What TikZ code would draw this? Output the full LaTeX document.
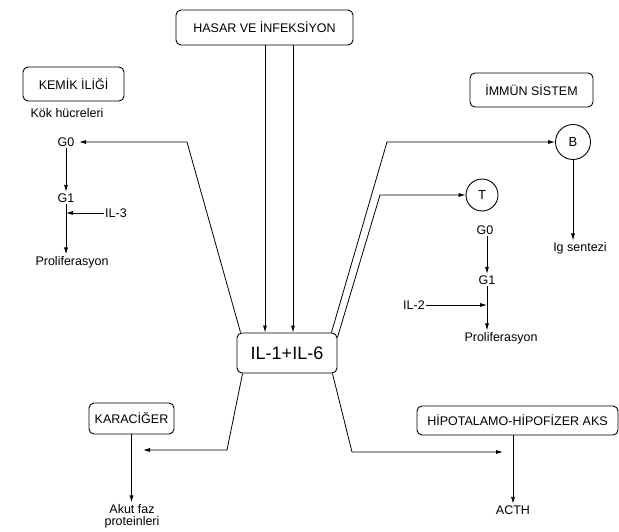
\documentclass[tikz,border=0pt]{standalone}
\usepackage{fontspec}
\setmainfont{Liberation Sans}
\usetikzlibrary{arrows.meta, positioning}
\tikzset{
  box/.style={draw, rounded corners=5pt, line width=0.9pt, inner sep=0pt,
    font=\fontsize{12.5}{14}\selectfont},
  cell/.style={draw, circle, line width=0.9pt, inner sep=0pt,
    font=\fontsize{13}{15}\selectfont},
  lbl/.style={inner sep=1.5pt, font=\fontsize{12.5}{14}\selectfont},
  arr/.style={line width=0.8pt, -{Latex[length=7pt, width=4pt]}}
}

\begin{document}
\begin{tikzpicture}[x=1pt, y=-1pt]
  \useasboundingbox (0, 0) rectangle (619, 532);

  % boxes
  \node[box, minimum width=177pt, minimum height=35pt] (hasar) at (264.5, 27.5) {HASAR VE İNFEKSİYON};
  \node[box, minimum width=101pt, minimum height=34pt] (kemik) at (73.5, 84) {KEMİK İLİĞİ};
  \node[box, minimum width=123pt, minimum height=34pt] (immun) at (531.5, 90) {İMMÜN SİSTEM};
  \node[box, minimum width=100pt, minimum height=40pt, font=\fontsize{18}{20}\selectfont]
    (il) at (287, 353) {IL-1+IL-6};
  \node[box, minimum width=85pt, minimum height=31pt] (kar) at (131.5, 418.5) {KARACİĞER};
  \node[box, minimum width=201pt, minimum height=29pt] (hipo) at (517.5, 420.5) {HİPOTALAMO-HİPOFİZER AKS};

  % kemik iligi
  \node[lbl] (kok) at (67, 113) {Kök hücreleri};
  \node[lbl] (kg0) at (66, 142) {G0};
  \node[lbl] (kg1) at (66, 198) {G1};
  \node[lbl] (kprol) at (72, 262) {Proliferasyon};
  \node[lbl] (il3) at (116, 213) {IL-3};
  \draw[arr] (kg0) -- (kg1);
  \draw[arr] (kg1.south) -- (kg1.south |- kprol.north);
  \draw[arr] (il3.west) -- (il3.west -| kg1);

  % immun sistem
  \node[cell, minimum size=35pt] (bc) at (573, 142) {B};
  \node[lbl] (ig) at (580, 248) {Ig sentezi};
  \draw[arr] (bc.south) -- (bc |- ig.north);

  \node[cell, minimum size=32pt] (tc) at (482, 195) {T};
  \node[lbl] (tg0) at (485, 230) {G0};
  \node[lbl] (tg1) at (487, 280) {G1};
  \node[lbl] (tprol) at (501, 338) {Proliferasyon};
  \node[lbl] (il2) at (414, 305) {IL-2};
  \draw[arr] (tg0.south -| tg1) -- (tg1.north);
  \draw[arr] (tg1.south) -- (tg1.south |- tprol.north);
  \draw[arr] (il2.east) -- (il2.east -| tg1);

  % karaciger, hipotalamo
  \node[lbl, align=center] (akut) at (132, 516) {Akut faz\\[-2pt]proteinleri};
  \node[lbl] (acth) at (513, 510) {ACTH};
  \draw[arr] (kar.south) -- (kar.south |- akut.north);
  \draw[arr] (hipo.south -| acth) -- (acth.north);

  % baglantilar
  \coordinate (h1) at ([xshift=-22pt]il.north);
  \coordinate (h2) at ([xshift=6pt]il.north);
  \draw[arr] (hasar.south -| h1) -- (h1);
  \draw[arr] (hasar.south -| h2) -- (h2);

  \coordinate (kb) at (187, 142);
  \draw[arr] ([xshift=4pt]il.north west) -- (kb) -- ([xshift=3pt]kg0.east);

  \coordinate (bb) at (387, 142);
  \coordinate (tb) at (380, 195);
  \draw[arr] ([xshift=-6pt]il.north east) -- (bb) -- (bc.west);
  \draw[arr] ([yshift=-5pt]il.north east) -- (tb) -- (tc.west);

  \coordinate (kr) at (227, 450);
  \coordinate (kr2) at (143, 450);
  \draw[arr] ([xshift=6pt]il.south west) -- (kr) -- (kr2);

  \coordinate (hp) at (352, 452);
  \coordinate (hp2) at (503, 452);
  \draw[arr] ([xshift=-5pt]il.south east) -- (hp) -- (hp2);
\end{tikzpicture}
\end{document}
